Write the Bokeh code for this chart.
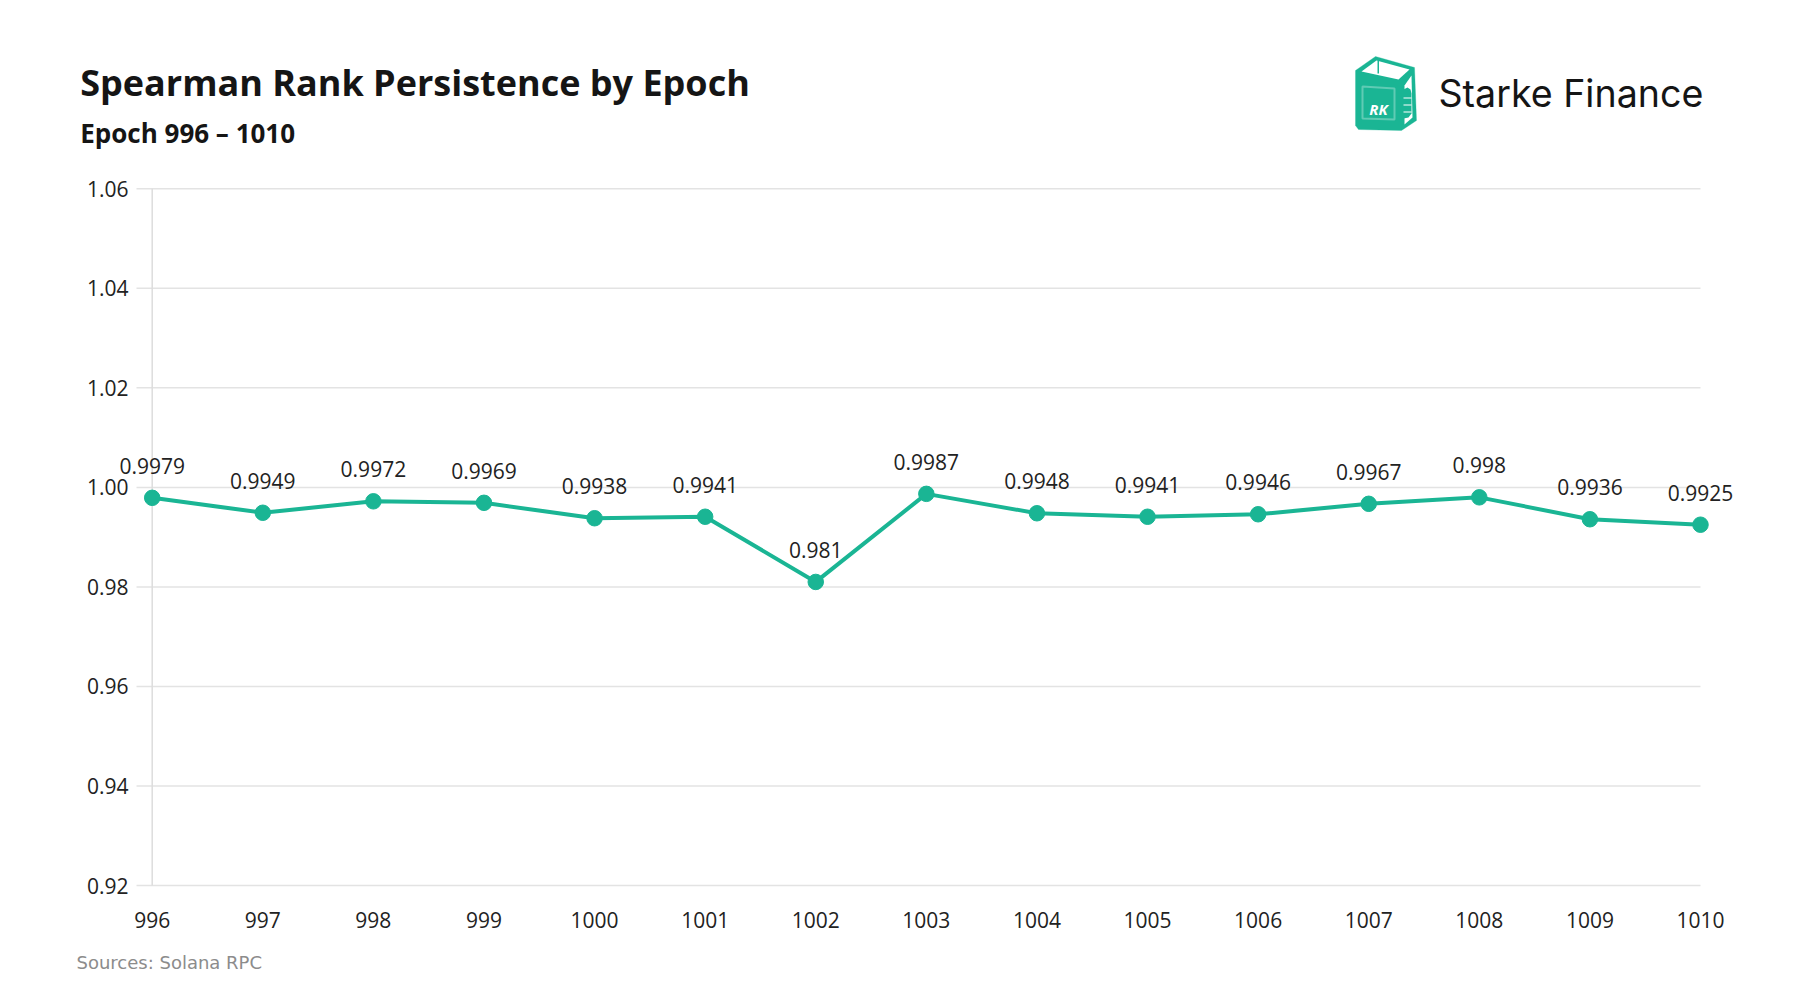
from bokeh.plotting import figure
from bokeh.models import (ColumnDataSource, Range1d, FixedTicker, Label,
                          LabelSet, PolyAnnotation, PrintfTickFormatter)
from bokeh.core.properties import value
from bokeh.embed import file_html
from bokeh.resources import INLINE

# ---------------- data ----------------
epochs = [996, 997, 998, 999, 1000, 1001, 1002, 1003, 1004, 1005, 1006, 1007, 1008, 1009, 1010]
spearman = [0.9979, 0.9949, 0.9972, 0.9969, 0.9938, 0.9941, 0.981, 0.9987,
            0.9948, 0.9941, 0.9946, 0.9967, 0.998, 0.9936, 0.9925]
y_ticks = [0.92, 0.94, 0.96, 0.98, 1.00, 1.02, 1.04, 1.06]
value_labels = [f"{v:g}" for v in spearman]

TITLE = "Spearman Rank Persistence by Epoch"
SUBTITLE = "Epoch 996 \u2013 1010"
SOURCE = "Sources: Solana RPC"
BRAND = "Starke Finance"

# ---------------- layout / style ----------------
TEAL = "#1ab594"
GRID = "#e3e3e3"
TXT = "#222222"
W, H = 1784, 984

# plot area in canvas pixels
PX_LEFT, PX_RIGHT = 151.7, 1700.0     # first / last epoch
PY_TOP, PY_BOTTOM = 188.3, 885.0      # top / bottom y tick
kx = (PX_RIGHT - PX_LEFT) / (epochs[-1] - epochs[0])
ky = (PY_BOTTOM - PY_TOP) / (y_ticks[-1] - y_ticks[0])
x_start = epochs[0] - PX_LEFT / kx
x_end = x_start + W / kx
y_end = y_ticks[-1] + PY_TOP / ky
y_start = y_end - H / ky
grid_x0 = epochs[0] - 15.7 / kx

p = figure(width=W, height=H, x_range=Range1d(x_start, x_end),
           y_range=Range1d(y_start, y_end),
           output_backend="svg", toolbar_location=None,
           min_border=0)
p.outline_line_color = None
p.xgrid.visible = False
p.ygrid.visible = False
p.background_fill_color = "white"
p.border_fill_color = "white"

for ax in (p.xaxis[0], p.yaxis[0]):
    ax.axis_line_color = None
    ax.major_tick_line_color = None
    ax.minor_tick_line_color = None
    ax.major_tick_in = 0
    ax.major_tick_out = 0
    ax.major_label_text_font = "Open Sans"
    ax.major_label_text_font_size = "21px"
    ax.major_label_text_color = TXT

p.yaxis.ticker = FixedTicker(ticks=y_ticks)
p.yaxis.formatter = PrintfTickFormatter(format="%.2f")
p.yaxis.major_label_standoff = 8
p.yaxis.fixed_location = grid_x0
p.xaxis.ticker = FixedTicker(ticks=epochs)
p.xaxis.major_label_standoff = 26
p.xaxis.fixed_location = y_ticks[0]

# horizontal grid lines (ending at the last epoch) and the vertical axis line
p.segment(x0=[grid_x0] * len(y_ticks), x1=[epochs[-1]] * len(y_ticks),
          y0=y_ticks, y1=y_ticks, line_color=GRID, line_width=1.5)
p.segment(x0=[epochs[0]], x1=[epochs[0]], y0=[y_ticks[0]], y1=[y_ticks[-1]],
          line_color="#dddddd", line_width=1.5)

src = ColumnDataSource(dict(x=epochs, y=spearman, lab=value_labels))
p.line("x", "y", source=src, line_color=TEAL, line_width=4)
p.scatter("x", "y", source=src, size=15.5, fill_color=TEAL, line_color=TEAL)
p.add_layout(LabelSet(x="x", y="y", text="lab", source=src, y_offset=24,
                      text_align="center", text_baseline="alphabetic",
                      text_font=value("Open Sans"), text_font_size=value("21px"),
                      text_color=TXT))


# ---------------- header / footer ----------------
def sx(px):
    return px


def sy(py):
    return H - py


def page_label(x, y, text, **kw):
    p.add_layout(Label(x=sx(x), y=sy(y), x_units="screen", y_units="screen",
                       text=text, text_baseline="alphabetic", **kw))


page_label(79.7, 81.5, TITLE, text_font="Open Sans", text_font_style="bold",
           text_font_size="36px", text_color="#151515")
page_label(79.7, 132.8, SUBTITLE, text_font="Open Sans", text_font_style="bold",
           text_font_size="26px", text_color="#151515")
page_label(76, 962, SOURCE, text_font="DejaVu Sans",
           text_font_size="18px", text_color="#8c8c8c")
page_label(1438, 92.5, BRAND, text_font="Inter",
           text_font_size="37.6px", text_color="#151515")


# logo
def poly(pts, **kw):
    p.add_layout(PolyAnnotation(xs=[sx(a) for a, b in pts], ys=[sy(b) for a, b in pts],
                                xs_units="screen", ys_units="screen", **kw))


poly([(1355, 70), (1375, 56), (1414, 67), (1416, 120), (1401, 130), (1358, 129), (1355, 125)],
     fill_color=TEAL, fill_alpha=1, line_color=TEAL, line_width=1)
poly([(1361, 71), (1376, 60), (1409, 69), (1398, 79)],
     fill_color="white", fill_alpha=1, line_color=None)
poly([(1404, 85), (1411, 75), (1412, 117), (1404, 124)],
     fill_color="white", fill_alpha=1, line_color=None)
poly([(1377, 60), (1378.5, 60), (1378.5, 73), (1377, 73)],
     fill_color=TEAL, fill_alpha=1, line_color=None)
poly([(1403, 89), (1407, 87), (1410, 89), (1411, 93), (1411, 113), (1408, 117), (1403, 118)],
     fill_color=TEAL, fill_alpha=1, line_color=None)
for yy in (97, 104, 111):
    poly([(1403, yy), (1411, yy), (1411, yy + 1), (1403, yy + 1)],
         fill_color="white", fill_alpha=1, line_color=None)
poly([(1362, 86), (1394, 88), (1394, 119), (1362, 118)],
     fill_color=None, fill_alpha=0, line_color="white", line_width=2)
p.add_layout(Label(x=sx(1378), y=sy(108), x_units="screen", y_units="screen",
                   text="RK", text_align="center", text_baseline="alphabetic",
                   text_font="Open Sans", text_font_style="bold italic",
                   text_font_size="15px", text_color="white"))

open("out.html", "w").write(file_html(p, INLINE))
